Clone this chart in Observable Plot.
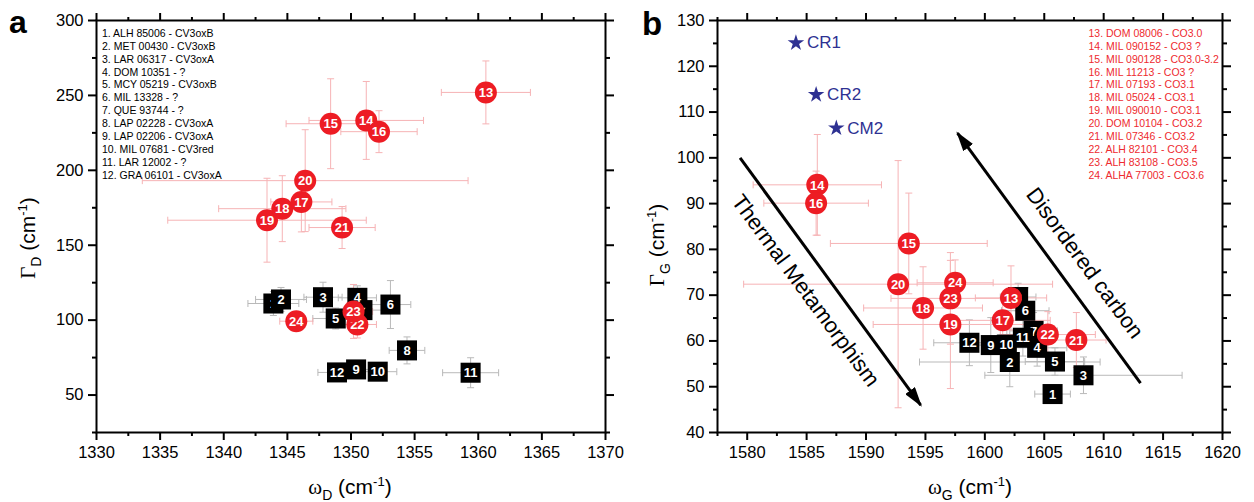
<!DOCTYPE html>
<html><head><meta charset="utf-8">
<script src="https://cdn.jsdelivr.net/npm/d3@7"></script>
<script src="https://cdn.jsdelivr.net/npm/@observablehq/plot@0.6"></script>
<style>
body{margin:0;background:#fff;}
#wrap{position:relative;width:1254px;height:502px;overflow:hidden;font-family:"Liberation Sans",Arial,sans-serif;}
#wrap > svg, #wrap > div{position:absolute;top:0;}
</style></head><body><div id="wrap"></div>
<script>
// ---------- data ----------
const ids = [1,2,3,4,5,6,7,8,9,10,11,12,13,14,15,16,17,18,19,20,21,22,23,24];
const cvNames = ["ALH 85006 - CV3oxB","MET 00430 - CV3oxB","LAR 06317 - CV3oxA","DOM 10351 - ?","MCY 05219 - CV3oxB","MIL 13328 - ?","QUE 93744 - ?","LAP 02228 - CV3oxA","LAP 02206 - CV3oxA","MIL 07681 - CV3red","LAR 12002 - ?","GRA 06101 - CV3oxA"];
const coNames = ["DOM 08006 - CO3.0","MIL 090152 - CO3 ?","MIL 090128 - CO3.0-3.2","MIL 11213 - CO3 ?","MIL 07193 - CO3.1","MIL 05024 - CO3.1","MIL 090010 - CO3.1","DOM 10104 - CO3.2","MIL 07346 - CO3.2","ALH 82101 - CO3.4","ALH 83108 - CO3.5","ALHA 77003 - CO3.6"];

// panel a: D band position (omega_D) and width (Gamma_D), with errors
const wD  = [1343.9,1344.5,1347.8,1350.5,1348.8,1353.1,1350.9,1354.4,1350.4,1352.1,1359.4,1348.9, 1360.6,1351.2,1348.4,1352.2,1346.1,1344.6,1343.4,1346.4,1349.3,1350.5,1350.2,1345.7];
const ewD = [2.0,2.0,1.5,1.5,1.8,1.6,1.5,1.4,1.3,1.5,2.2,1.5, 3.5,4.5,3.5,3.0,2.4,5.0,7.8,12.8,2.6,1.5,1.5,1.3];
const gD  = [111.1,113.8,115.3,114.9,101.1,110.4,106.7,79.8,67.1,65.6,64.9,65.1, 252,233.3,231.1,225.8,178.9,174.4,166.7,193.1,161.8,97.1,105.8,99.3];
const egD = [8,8,10,8,7,16,8,9,5,5,10,5, 21,26,30,14,20,22,28,34,14,9,18,4];

// panel b: G band position (omega_G) and width (Gamma_G), with errors
const wG  = [1605.7,1602.1,1608.3,1604.4,1605.9,1603.4,1604.1,1602.8,1600.5,1601.85,1603.2,1598.7, 1602.2,1585.9,1593.6,1585.8,1601.5,1594.8,1597.1,1592.7,1607.7,1605.3,1597.1,1597.5];
const ewG = [1.5,7.6,8.3,2.5,2.5,2.0,2.0,1.5,2.0,2.0,2.0,3.0, 3.0,5.4,6.6,4.4,4.0,5.0,6.5,13,2.5,4.0,5.0,3.2];
const gG  = [48.4,55.4,52.5,58.5,55.5,66.6,62.2,69.6,59.1,59.2,60.7,59.6, 69.4,94.1,81.3,90.1,64.5,67.2,63.6,72.4,60.2,61.4,69.3,72.7];
const egG = [2,5.4,4,4,3,5,4,3,6,4,4,5, 7,11,11,7,5,9,14,27,6,5,10,5];

// reference carbonaceous chondrites (stars)
const starNames = ["CR1","CR2","CM2"];
const starW = [1584.1,1585.8,1587.5];
const starG = [125.1,113.8,106.5];

// annotation arrows
const arrowNames = ["Thermal Metamorphism","Disordered carbon"];
const arrowX1 = [1579.4,1613.1], arrowY1 = [100.0,50.8];
const arrowX2 = [1594.6,1597.7], arrowY2 = [46.0,105.4];
const arrowLabelX = [1584.9,1608.4], arrowLabelY = [71.0,77.0];

// draw orders (hidden squares first)
const orderA = [1,7,2,3,4,5,6,8,9,10,11,12, 13,14,15,16,20,21,19,18,17,22,23,24];
const orderB = [7,8,1,2,3,4,5,6,12,9,10,11, 13,14,15,16,17,18,19,20,21,22,24,23];

// ---------- drawing ----------
const RED = "#ed1c24", PINK = "#f6b3b5", GRAY = "#b9b9b9", NAVY = "#2e3192";
const W = 627, H = 502;

function makePanel(o) {
  const rows = ids.map((id, i) => ({id, x: o.xs[i], ex: o.exs[i], y: o.ys[i], ey: o.eys[i]}));
  const innerW = W - o.ml - o.mr, innerH = H - o.mt - o.mb;
  const capX = 3.5 * (o.xDomain[1] - o.xDomain[0]) / innerW;
  const capY = 3.5 * (o.yDomain[1] - o.yDomain[0]) / innerH;
  const bars = (data, color) => [
    Plot.link(data, {x1: d => d.x - d.ex, x2: d => d.x + d.ex, y1: "y", y2: "y", stroke: color, strokeWidth: 1}),
    Plot.link(data, {x1: "x", x2: "x", y1: d => d.y - d.ey, y2: d => d.y + d.ey, stroke: color, strokeWidth: 1}),
    Plot.link(data, {x1: d => d.x - d.ex, x2: d => d.x - d.ex, y1: d => d.y - capY, y2: d => d.y + capY, stroke: color, strokeWidth: 1}),
    Plot.link(data, {x1: d => d.x + d.ex, x2: d => d.x + d.ex, y1: d => d.y - capY, y2: d => d.y + capY, stroke: color, strokeWidth: 1}),
    Plot.link(data, {x1: d => d.x - capX, x2: d => d.x + capX, y1: d => d.y - d.ey, y2: d => d.y - d.ey, stroke: color, strokeWidth: 1}),
    Plot.link(data, {x1: d => d.x - capX, x2: d => d.x + capX, y1: d => d.y + d.ey, y2: d => d.y + d.ey, stroke: color, strokeWidth: 1})
  ];
  const pts = [];
  for (const id of o.order) {
    const d = rows.find(r => r.id === id);
    const sq = id <= 12;
    pts.push(Plot.dot([d], {x: "x", y: "y", symbol: sq ? "square" : "circle", r: sq ? 11.3 : 11, fill: sq ? "#000" : RED, stroke: "none"}));
    pts.push(Plot.text([d], {x: "x", y: "y", text: d => String(d.id), fill: "white", fontWeight: "bold", fontSize: 13, dy: 0.5}));
  }
  const tf = d => String(d), none = () => "";
  const axes = [
    Plot.axisX({anchor: "bottom", ticks: o.xMajor, tickSize: 8, tickPadding: 6, tickFormat: tf, strokeWidth: 2, label: null}),
    Plot.axisX({anchor: "bottom", ticks: o.xMinor, tickSize: 4, tickFormat: none, strokeWidth: 2, label: null}),
    Plot.axisX({anchor: "top", ticks: o.xMajor, tickSize: 8, tickFormat: none, strokeWidth: 2, label: null}),
    Plot.axisX({anchor: "top", ticks: o.xMinor, tickSize: 4, tickFormat: none, strokeWidth: 2, label: null}),
    Plot.axisY({anchor: "left", ticks: o.yMajor, tickSize: 8, tickPadding: 5, tickFormat: tf, strokeWidth: 2, label: null}),
    Plot.axisY({anchor: "left", ticks: o.yMinor, tickSize: 4, tickFormat: none, strokeWidth: 2, label: null}),
    Plot.axisY({anchor: "right", ticks: o.yMajor, tickSize: 8, tickFormat: none, strokeWidth: 2, label: null}),
    Plot.axisY({anchor: "right", ticks: o.yMinor, tickSize: 4, tickFormat: none, strokeWidth: 2, label: null}),
    Plot.frame({stroke: "black", strokeWidth: 2})
  ];
  const legend = Plot.text([o.legendLines.join("\n")], {
    frameAnchor: "top-left", dx: o.legendDx, dy: 7, text: d => d, textAnchor: "start",
    lineHeight: 1.233, fontSize: 10.5, fill: o.legendColor
  });
  return Plot.plot({
    width: W, height: H,
    marginLeft: o.ml, marginRight: o.mr, marginTop: o.mt, marginBottom: o.mb,
    x: {domain: o.xDomain, label: null},
    y: {domain: o.yDomain, label: null},
    style: {fontFamily: '"Liberation Sans", Arial, sans-serif', fontSize: "16.5px", color: "black", background: "transparent", overflow: "visible"},
    marks: [
      ...bars(rows.filter(d => d.id <= 12), GRAY),
      ...bars(rows.filter(d => d.id > 12), PINK),
      ...(o.extra || []),
      ...pts,
      legend,
      ...axes
    ]
  });
}

const wrap = document.getElementById("wrap");

const svgA = makePanel({
  xs: wD, exs: ewD, ys: gD, eys: egD,
  ml: 96, mr: 22, mt: 20, mb: 70,
  xDomain: [1330, 1370], yDomain: [25, 300],
  xMajor: d3.range(1330, 1371, 5), xMinor: d3.range(1332.5, 1370, 5),
  yMajor: d3.range(50, 301, 50), yMinor: d3.range(25, 300, 50),
  order: orderA,
  legendLines: cvNames.map((n, i) => `${ids[i]}. ${n}`), legendDx: 5.5, legendColor: "#000"
});
svgA.style.left = "0px";
wrap.appendChild(svgA);

const stars = starNames.map((n, i) => ({n, x: starW[i], y: starG[i]}));
const arrows = arrowNames.map((n, i) => ({n, x1: arrowX1[i], y1: arrowY1[i], x2: arrowX2[i], y2: arrowY2[i], lx: arrowLabelX[i], ly: arrowLabelY[i]}));

const svgB = makePanel({
  xs: wG, exs: ewG, ys: gG, eys: egG,
  ml: 90, mr: 32, mt: 20, mb: 70,
  xDomain: [1577.5, 1620], yDomain: [40, 130],
  xMajor: d3.range(1580, 1621, 5), xMinor: d3.range(1577.5, 1620, 5),
  yMajor: d3.range(40, 131, 10), yMinor: d3.range(45, 130, 10),
  order: orderB,
  legendLines: coNames.map((n, i) => `${ids[i + 12]}. ${n}`), legendDx: 371, legendColor: "#ee2a2f",
  extra: [
    Plot.link(arrows, {x1: "x1", y1: "y1", x2: "x2", y2: "y2", stroke: "#010101", strokeWidth: 3}),
    Plot.text(arrows, {x: "lx", y: "ly", text: "n", rotate: 53.5, fontSize: 22, fill: "#000"}),
    Plot.dot(stars, {x: "x", y: "y", symbol: "star", r: 5.2, fill: NAVY, stroke: "none"}),
    Plot.text(stars, {x: "x", y: "y", text: "n", dx: 11, textAnchor: "start", fontSize: 17, fill: NAVY})
  ]
});
svgB.style.left = "627px";
wrap.appendChild(svgB);

// filled arrowheads for the annotation arrows
(function () {
  const s = d3.select(svgB);
  const defs = s.append("defs");
  defs.append("marker").attr("id", "fillArrow")
    .attr("viewBox", "0 -6 20 12").attr("markerWidth", 20).attr("markerHeight", 12)
    .attr("markerUnits", "userSpaceOnUse").attr("refX", 18).attr("refY", 0).attr("orient", "auto")
    .append("path").attr("d", "M0,-6L20,0L0,6Z").attr("fill", "#000");
  s.selectAll("g").filter(function () { return this.getAttribute("stroke") === "#010101"; })
    .selectAll("path").attr("marker-end", "url(#fillArrow)");
})();

// overlay: panel letters and axis titles
const ov = d3.select(wrap).append("svg").attr("width", 1254).attr("height", 502)
  .style("left", "0px").style("pointer-events", "none")
  .style("font-family", '"Liberation Sans", Arial, sans-serif');
ov.append("text").attr("x", 9).attr("y", 33).attr("font-size", 32).attr("font-weight", "bold").text("a");
ov.append("text").attr("x", 642).attr("y", 35).attr("font-size", 33).attr("font-weight", "bold").text("b");

function axisTitle(g, sym, sub, x, y, rot) {
  const t = g.append("text").attr("text-anchor", "middle").attr("font-size", 21)
    .attr("transform", `translate(${x},${y}) rotate(${rot})`);
  t.append("tspan").attr("font-family", '"Liberation Serif", "Times New Roman", serif').text(sym);
  t.append("tspan").attr("font-size", 14).attr("dy", 6).text(sub);
  t.append("tspan").attr("dy", -6).text(" (cm");
  t.append("tspan").attr("font-size", 13).attr("dy", -8).text("-1");
  t.append("tspan").attr("dy", 8).text(")");
}
axisTitle(ov, "ω", "D", 350, 494, 0);
axisTitle(ov, "Γ", "D", 35, 238, -90);
axisTitle(ov, "ω", "G", 970, 494, 0);
axisTitle(ov, "Γ", "G", 664, 245, -90);
</script>
</body></html>
